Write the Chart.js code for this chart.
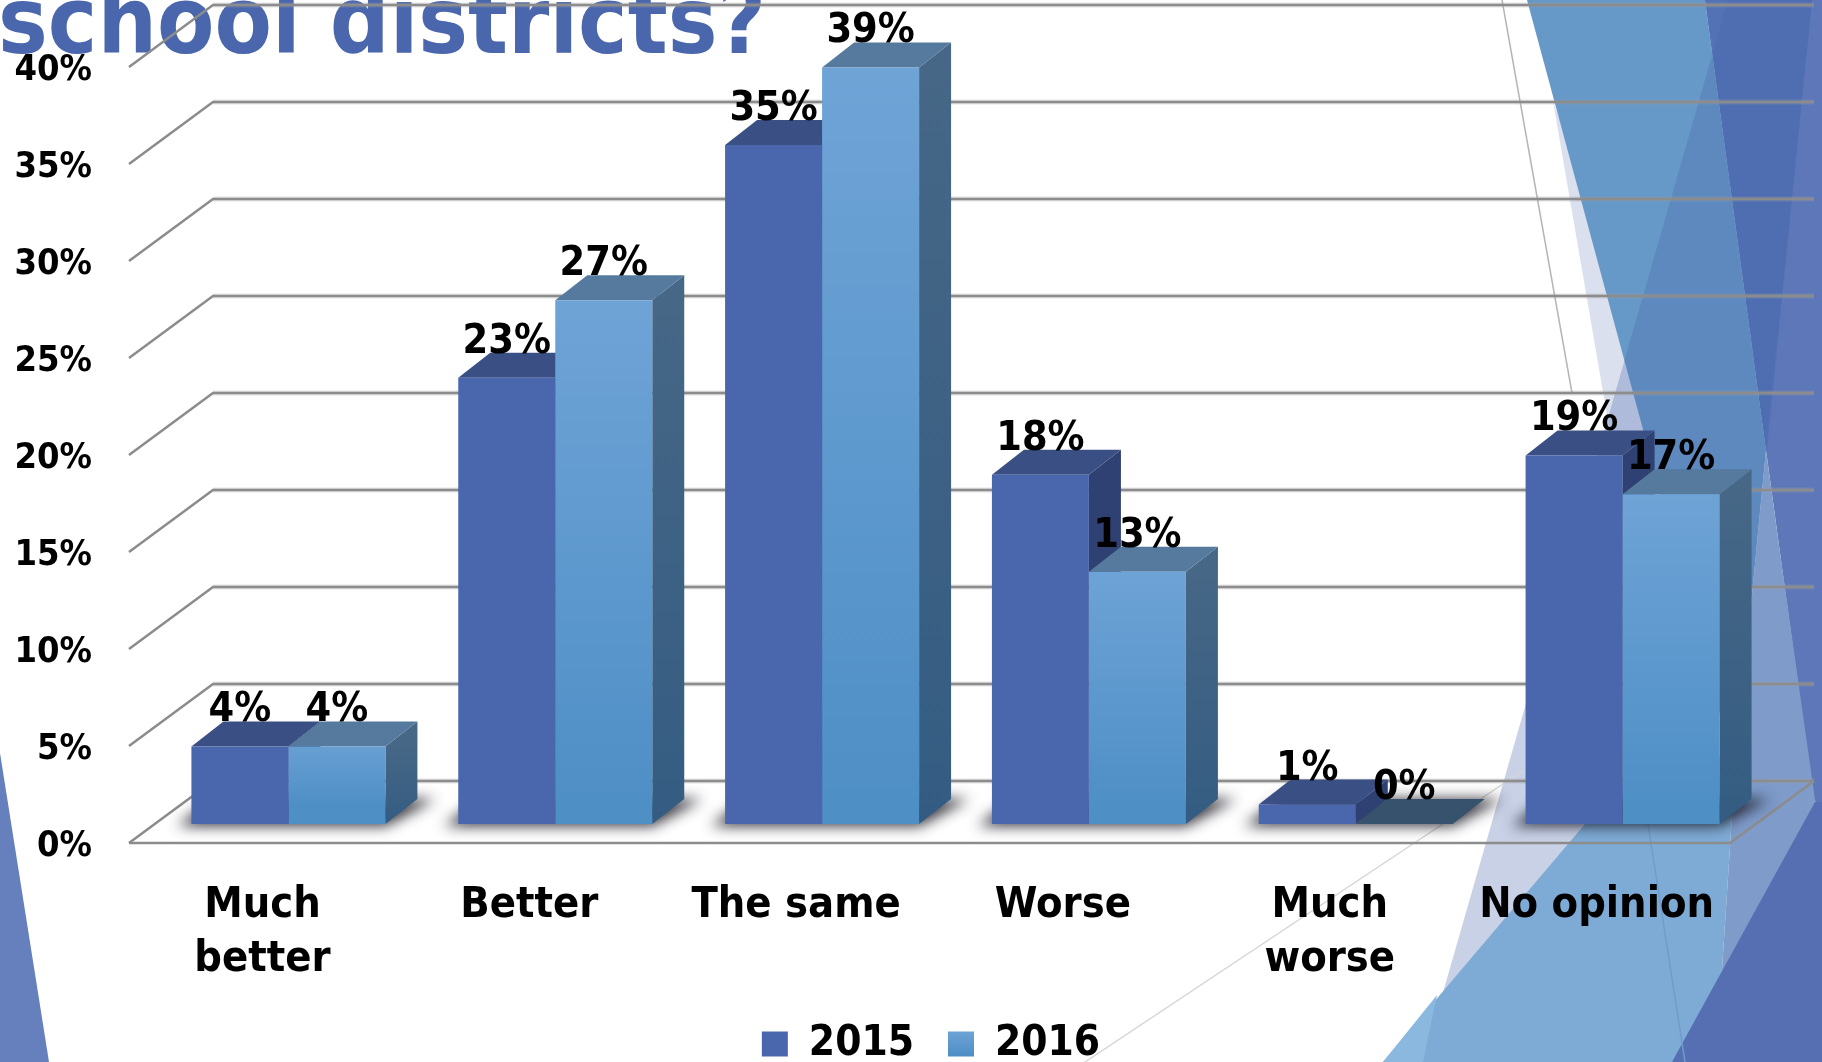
<!DOCTYPE html>
<html>
<head>
<meta charset="utf-8">
<title>school districts?</title>
<script src="https://cdn.jsdelivr.net/npm/chart.js@4/dist/chart.umd.min.js"></script>
<style>
    html, body { margin: 0; padding: 0; background: #fff; overflow: hidden; }
    canvas { display: block; }
</style>
</head>
<body>
<canvas id="chart" width="1822" height="1062"></canvas>
<script>
const categories = [['Much', 'better'], 'Better', 'The same', 'Worse', ['Much', 'worse'], 'No opinion'];
const series2015 = [4, 23, 35, 18, 1, 19];
const series2016 = [4, 27, 39, 13, 0, 17];
const seriesNames = ['2015', '2016'];
const yMax = 40;
const yStep = 5;

const FONT = '"DejaVu Sans Condensed", "DejaVu Sans", sans-serif';
const GRID = '#8c8c8c';

// fake 3D: where the bars and the back wall sit relative to the front plane
const barShift = { x: 26, y: -19 };
const barDepth = { x: 32, y: -25 };
const wallDepth = { x: 84, y: -62 };

const faces = [
    { top: '#3a4f83', sideTop: '#2f4172', sideBottom: '#2f4172', flat: '#3a4f83' },
    { top: '#557a9d', sideTop: '#466786', sideBottom: '#345c82', flat: '#37526c' }
];

function poly(ctx, pts, fill) {
    ctx.beginPath();
    pts.forEach((p, i) => i ? ctx.lineTo(p[0], p[1]) : ctx.moveTo(p[0], p[1]));
    ctx.closePath();
    ctx.fillStyle = fill;
    ctx.fill();
}

function line(ctx, pts, color, width) {
    ctx.beginPath();
    pts.forEach((p, i) => i ? ctx.lineTo(p[0], p[1]) : ctx.moveTo(p[0], p[1]));
    ctx.strokeStyle = color;
    ctx.lineWidth = width;
    ctx.stroke();
}

// slide artwork behind the chart
const slideBackground = {
    id: 'slideBackground',
    beforeDraw(chart) {
        const ctx = chart.ctx;
        ctx.save();
        ctx.fillStyle = '#fff';
        ctx.fillRect(0, 0, 1822, 1062);

        poly(ctx, [[0, 753], [49, 1062], [0, 1062]], '#6580bd');

        poly(ctx, [[1705, 0], [1822, 0], [1822, 810], [1815, 810], [1766, 450]], '#5d77b8');
        poly(ctx, [[1705, 0], [1812, 0], [1766, 450]], '#5272b5');
        poly(ctx, [[1553, 101], [1625, 520], [1700, 520]], 'rgba(74,102,172,0.2)');
        poly(ctx, [[1527, 0], [1705, 0], [1766, 450], [1735, 770]], '#6699c7');
        poly(ctx, [[1728, 0], [1812, 0], [1706, 1062], [1423, 1062]], 'rgba(74,102,172,0.3)');
        poly(ctx, [[1383, 1062], [1585, 824], [1680, 724], [1735, 770], [1720, 1000], [1672, 1062]], '#7eabd6');
        poly(ctx, [[1383, 1062], [1437, 995], [1423, 1062]], '#8bb8de');
        poly(ctx, [[1766, 450], [1777, 531], [1815, 800], [1822, 810], [1720, 1000], [1735, 770]], '#7e9bca');
        poly(ctx, [[1672, 1062], [1815, 802], [1822, 802], [1822, 1062]], '#556fb2');

        line(ctx, [[1502, 0], [1572, 393]], '#b5b5b5', 1.5);
        line(ctx, [[1085, 1062], [1524, 770]], '#d6d6d6', 1.5);
        line(ctx, [[1648, 824], [1685, 1062]], '#6f9ccb', 1.5);

        ctx.font = 'bold 93px ' + FONT;
        ctx.fillStyle = '#4a66ac';
        ctx.textAlign = 'right';
        ctx.textBaseline = 'alphabetic';
        ctx.fillText('school districts?', 766, 53);
        ctx.restore();
    }
};

// back wall, floor, bar tops and sides, then the native bar fronts get shifted onto the floor
const fake3d = {
    id: 'fake3d',
    beforeDatasetsDraw(chart) {
        const ctx = chart.ctx;
        const area = chart.chartArea;
        const y = chart.scales.y;
        ctx.save();

        const y0 = y.getPixelForValue(0);
        for (let v = 0; v <= yMax; v += yStep) {
            const py = y.getPixelForValue(v);
            const wall = [
                [area.left, py],
                [area.left + wallDepth.x, py + wallDepth.y],
                [area.right + wallDepth.x, py + wallDepth.y]
            ];
            line(ctx, wall.slice(1), 'rgba(160,160,160,0.3)', 5);
            line(ctx, wall, GRID, 2.5);
        }
        line(ctx, [
            [area.left, y0],
            [area.right, y0],
            [area.right + wallDepth.x, y0 + wallDepth.y]
        ], GRID, 2.5);

        ctx.translate(barShift.x, barShift.y);

        // soft shadow on the floor: the shape is drawn off canvas so only its blur lands here
        const first = chart.getDatasetMeta(0).data;
        const second = chart.getDatasetMeta(1).data;
        const away = 4000;
        first.forEach((bar, i) => {
            const l = bar.x - bar.width / 2;
            const r = second[i].x + second[i].width / 2;
            ctx.save();
            ctx.shadowColor = 'rgba(30,30,40,0.9)';
            ctx.shadowBlur = 14;
            ctx.shadowOffsetX = away;
            poly(ctx, [
                [l - 14 - away, bar.base + 2],
                [r - away, bar.base + 2],
                [r + barDepth.x + 18 - away, bar.base + barDepth.y],
                [l + barDepth.x - 10 - away, bar.base + barDepth.y]
            ], '#000');
            ctx.restore();
        });

        [0, 1].forEach(d => {
            const f = faces[d];
            chart.getDatasetMeta(d).data.forEach((bar, i) => {
                const r = bar.x + bar.width / 2;
                const l = bar.x - bar.width / 2;
                const dx = barDepth.x, dy = barDepth.y;
                const grad = ctx.createLinearGradient(0, bar.y, 0, bar.base);
                grad.addColorStop(0, f.sideTop);
                grad.addColorStop(1, f.sideBottom);
                poly(ctx, [[r, bar.y], [r + dx, bar.y + dy], [r + dx, bar.base + dy], [r, bar.base]], grad);
                const zero = chart.data.datasets[d].data[i] === 0;
                poly(ctx, [[l, bar.y], [l + dx, bar.y + dy], [r + dx, bar.y + dy], [r, bar.y]], zero ? f.flat : f.top);
            });
        });
    },
    afterDatasetsDraw(chart) {
        const ctx = chart.ctx;
        ctx.font = 'bold 41px ' + FONT;
        ctx.fillStyle = '#000';
        ctx.textAlign = 'center';
        ctx.textBaseline = 'alphabetic';
        chart.data.datasets.forEach((ds, d) => {
            chart.getDatasetMeta(d).data.forEach((bar, i) => {
                ctx.fillText(ds.data[i] + '%', bar.x, bar.y - 25);
            });
        });
        ctx.restore();
    }
};

// legend sits off centre of the plot in the original, and the category labels run down past its top
const moveLegend = {
    id: 'moveLegend',
    afterLayout(chart) {
        const legend = chart.legend;
        legend.left = 931 - legend.width / 2;
        legend.right = legend.left + legend.width;
        legend.top += 13;
        legend.bottom += 13;
        const x = chart.scales.x;
        x.bottom = 1062;
        x.height = x.bottom - x.top;
    }
};

function frontGradient(context) {
    const chart = context.chart;
    if (!chart.chartArea || context.raw === undefined) return '#5f99cf';
    const y = chart.scales.y;
    const top = y.getPixelForValue(context.raw) + barShift.y;
    const g = chart.ctx.createLinearGradient(0, top, 0, y.getPixelForValue(0) + barShift.y);
    g.addColorStop(0, '#70a4d7');
    g.addColorStop(1, '#4e8fc6');
    return g;
}

const ctx = document.getElementById('chart').getContext('2d');
const swatch2016 = ctx.createLinearGradient(0, 1030, 0, 1055);
swatch2016.addColorStop(0, '#70a4d7');
swatch2016.addColorStop(1, '#4e8fc6');

new Chart(ctx, {
    type: 'bar',
    data: {
        labels: categories,
        datasets: [
            { label: seriesNames[0], data: series2015, backgroundColor: '#4a66ac', clip: false },
            { label: seriesNames[1], data: series2016, backgroundColor: frontGradient, clip: false }
        ]
    },
    options: {
        responsive: false,
        animation: false,
        categoryPercentage: 0.727,
        barPercentage: 1,
        layout: {
            autoPadding: false,
            padding: { top: 67, right: 92, bottom: 0, left: 0 }
        },
        scales: {
            x: {
                grid: { display: false },
                border: { display: false },
                ticks: {
                    color: '#000',
                    font: { family: FONT, size: 43, weight: 'bold', lineHeight: 54 / 43 },
                    padding: 28,
                    maxRotation: 0,
                    autoSkip: false
                },
                afterFit(scale) {
                    scale.height = 1062 - 843 - scale.chart.legend.height;
                }
            },
            y: {
                min: 0,
                max: yMax,
                grid: { display: false },
                border: { display: false },
                ticks: {
                    stepSize: yStep,
                    color: '#000',
                    font: { family: FONT, size: 36, weight: 'bold' },
                    padding: 29,
                    labelOffset: 4,
                    callback: v => v + '%'
                },
                afterFit(scale) {
                    scale.width = 129;
                }
            }
        },
        plugins: {
            title: { display: false },
            tooltip: { enabled: false },
            legend: {
                position: 'bottom',
                labels: {
                    color: '#000',
                    boxWidth: 26,
                    boxHeight: 25,
                    padding: 34,
                    font: { family: FONT, size: 42, weight: 'bold' },
                    generateLabels(chart) {
                        return chart.data.datasets.map((ds, i) => ({
                            text: ds.label,
                            fillStyle: i === 0 ? '#4a66ac' : swatch2016,
                            strokeStyle: 'transparent',
                            lineWidth: 0,
                            fontColor: '#000',
                            datasetIndex: i
                        }));
                    }
                }
            }
        }
    },
    plugins: [slideBackground, fake3d, moveLegend]
});
</script>
</body>
</html>
